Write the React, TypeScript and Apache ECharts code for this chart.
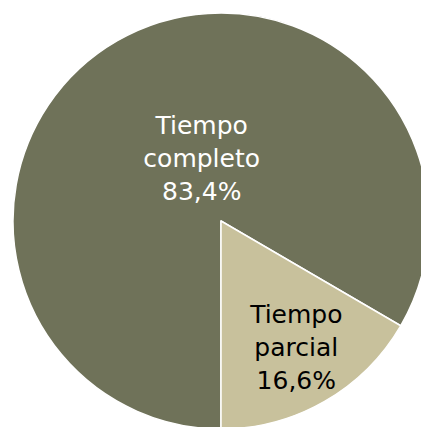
import React, { useEffect, useRef } from "react";
import * as echarts from "echarts";

const categories = ["Tiempo\ncompleto", "Tiempo\nparcial"];
const values = [83.4, 16.6];
const valueLabels = ["83,4%", "16,6%"];

const sliceColors = ["#6f7259", "#c8c19c"];
const labelColors = ["#ffffff", "#000000"];
const labelShift = [
  { dx: 34, dy: 30 },
  { dx: 22, dy: 34 },
];

export default function App() {
  const ref = useRef<HTMLDivElement>(null);
  useEffect(() => {
    document.body.style.margin = "0";
    const chart = echarts.init(ref.current!, null, { renderer: "svg" });
    chart.setOption({
      animation: false,
      backgroundColor: "#ffffff",
      series: [
        {
          type: "pie",
          center: [221, 221],
          radius: 208,
          startAngle: 270,
          clockwise: true,
          avoidLabelOverlap: false,
          itemStyle: { borderColor: "#ffffff", borderWidth: 1.5 },
          label: {
            show: true,
            position: "inside",
            fontFamily: "DejaVu Sans, Verdana, sans-serif",
            fontSize: 25,
            lineHeight: 33,
            align: "center",
            formatter: (p: any) => `${categories[p.dataIndex]}\n${valueLabels[p.dataIndex]}`,
          },
          labelLine: { show: false },
          emphasis: { disabled: true },
          labelLayout: (p: any) => labelShift[p.dataIndex],
          data: values.map((v, i) => ({
            value: v,
            name: categories[i],
            itemStyle: { color: sliceColors[i] },
            label: { color: labelColors[i] },
          })),
        },
      ],
    });
    return () => chart.dispose();
  }, []);
  return (
    <div
      ref={ref}
      style={{ position: "fixed", left: 0, top: 0, width: 421, height: 427 }}
    />
  );
}
